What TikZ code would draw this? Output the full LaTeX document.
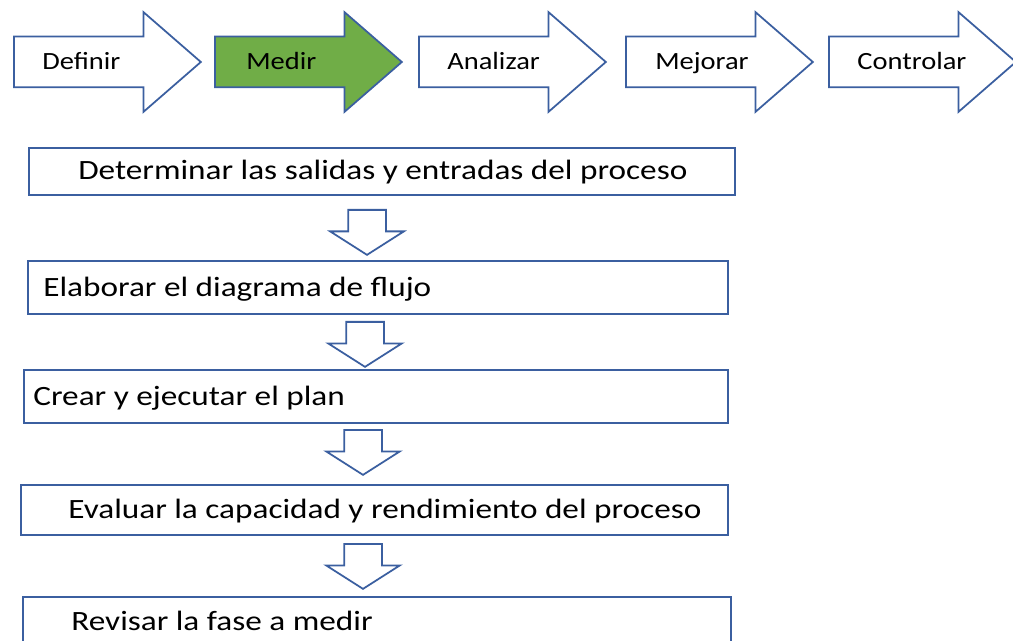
\documentclass[tikz,border=0pt]{standalone}
\usepackage{fontspec}
\usetikzlibrary{shapes.arrows}
\usetikzlibrary{calc}
\newfontfamily\boxfont[FakeStretch=1.19]{Carlito}
\newfontfamily\tabfont[FakeStretch=1.15]{Carlito}
\definecolor{edge}{RGB}{59,95,160}
\definecolor{leaf}{RGB}{112,173,71}
\tikzset{
    phase/.style={single arrow, draw=edge, line width=1pt, fill=white, inner sep=0pt,
        text height=0.98cm, text depth=0pt, single arrow head extend=0.49cm,
        single arrow tip angle=82, minimum height=3.74cm, anchor=tail},
    phasetext/.style={anchor=base west, inner sep=0pt, font=\tabfont\fontsize{14.1}{17}\selectfont},
    stepbox/.style={draw=edge, line width=1pt, inner sep=0pt, anchor=north west},
    steptext/.style={anchor=base west, inner sep=0pt, font=\boxfont\fontsize{15.9}{19}\selectfont},
    down/.style={single arrow, draw=edge, line width=1pt, inner sep=0pt, rotate=-90,
        text height=0.72cm, text depth=0pt, single arrow head extend=0.36cm,
        single arrow tip angle=115, minimum height=0.9cm, anchor=tail}
}
\begin{document}
\begin{tikzpicture}[x=0.02cm, y=-0.02cm]
    \useasboundingbox (0, 0) rectangle (1013, 641);

    \node[phase] (def) at (13, 62) {};
    \node[phase, fill=leaf] (med) at (214, 62) {};
    \node[phase] (ana) at (418, 62) {};
    \node[phase] (mej) at (625, 62) {};
    \node[phase] (con) at (828, 62) {};
    \node[phasetext] (tdef) at ($(def.tail)+(29, 8)$) {Definir};
    \node[phasetext] (tmed) at ($(med.tail)+(32, 8)$) {Medir};
    \node[phasetext] (tana) at ($(ana.tail)+(29, 8)$) {Analizar};
    \node[phasetext] (tmej) at ($(mej.tail)+(30, 8)$) {Mejorar};
    \node[phasetext] (tcon) at ($(con.tail)+(29, 8)$) {Controlar};

    \node[stepbox, minimum width=14.12cm, minimum height=0.94cm] (b1) at (28, 147) {};
    \node[stepbox, minimum width=14.00cm, minimum height=1.06cm] (b2) at (27, 260) {};
    \node[stepbox, minimum width=14.08cm, minimum height=1.06cm] (b3) at (23, 369) {};
    \node[stepbox, minimum width=14.14cm, minimum height=1.00cm] (b4) at (20, 484) {};
    \node[stepbox, minimum width=14.16cm, minimum height=1.00cm] (b5) at (22, 596) {};
    \node[steptext, anchor=base] (t1) at ($(b1.center)+(1, 8)$) {Determinar las salidas y entradas del proceso};
    \node[steptext] (t2) at ($(b2.west)+(16, 9)$) {Elaborar el diagrama de flujo};
    \node[steptext] (t3) at ($(b3.west)+(10, 9)$) {Crear y ejecutar el plan};
    \node[steptext] (t4) at ($(b4.west)+(48, 9)$) {Evaluar la capacidad y rendimiento del proceso};
    \node[steptext] (t5) at ($(b5.west)+(49, 9)$) {Revisar la fase a medir};

    \node[down] (d1) at (367, 209) {};
    \node[down] (d2) at (365, 321) {};
    \node[down] (d3) at (363, 429) {};
    \node[down] (d4) at (363, 543) {};
\end{tikzpicture}
\end{document}
